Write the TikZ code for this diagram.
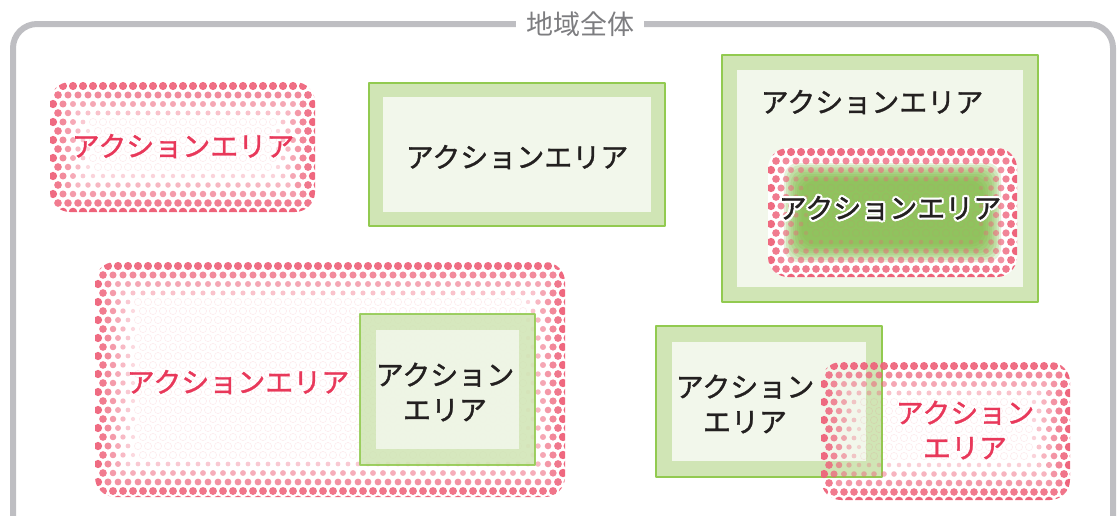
\documentclass[tikz,border=0pt]{standalone}
\usepackage{fontspec}
\setmainfont{Noto Sans CJK JP}
\newfontfamily\jpthick{Noto Sans CJK JP}[FakeBold=1.2]
\definecolor{framegray}{RGB}{190,190,194}
\definecolor{titlegray}{RGB}{125,125,128}
\definecolor{dotred}{RGB}{238,98,122}
\definecolor{textred}{RGB}{232,56,90}
\definecolor{bandgreen}{RGB}{208,229,181}
\definecolor{edgegreen}{RGB}{146,202,80}
\definecolor{innergreen}{RGB}{242,247,235}
\definecolor{glowgreen}{RGB}{128,188,70}
\definecolor{inkblack}{RGB}{35,32,32}
\tikzset{
  areatext/.style={font=\jpthick\fontsize{28}{35}\selectfont,align=center,inner sep=0pt},
  redtext/.style={areatext,text=textred},
  blacktext/.style={areatext,text=inkblack},
  band/.style={fill=bandgreen,draw=edgegreen,line width=1.2pt},
  inner/.style={fill=innergreen}
}
% halftone rounded area: x0,y0,x1,y1
\newcommand\halftone[4]{%
  \begin{scope}
  \clip[rounded corners=20pt] (#1,#2) rectangle (#3,#4);
  \pgfmathtruncatemacro\nx{(#3-#1)/10+1}
  \pgfmathtruncatemacro\ny{(#4-#2)/9+1}
  \foreach \j in {0,...,\ny}{
    \foreach \i in {0,...,\nx}{
      \pgfmathsetmacro\px{#1+3+10*\i+5*mod(\j,2)}
      \pgfmathsetmacro\py{#2+4+9*\j}
      \pgfmathsetmacro\dist{min(min(\px-#1,#3-\px),min(\py-#2,#4-\py))}
      \pgfmathsetmacro\fd{min(1,\dist/40)}
      \pgfmathsetmacro\rr{4.3-2.3*\fd}
      \ifdim\fd pt<1pt
        \fill[dotred,opacity=1-0.8*\fd] (\px,\py) circle (\rr pt);
      \else
        \draw[dotred,opacity=0.14,line width=0.5pt] (\px,\py) circle (3.6pt);
      \fi
    }}
  \end{scope}}
% green framed area: x0,y0,x1,y1,inset
\newcommand\greenbox[5]{%
  \fill[band] (#1,#2) rectangle (#3,#4);
  \fill[inner] (#1+#5,#2+#5) rectangle (#3-#5,#4-#5);}
% white halo round a text, kept in one box
\newcommand\halocopy[2]{\rlap{\kern#1\raisebox{#2}{\textcolor{white}{\haloword}}}}
\newcommand\haloed[1]{\def\haloword{#1}%
  \halocopy{-2.2pt}{0pt}\halocopy{2.2pt}{0pt}\halocopy{0pt}{2.2pt}\halocopy{0pt}{-2.2pt}%
  \halocopy{-1.6pt}{1.6pt}\halocopy{1.6pt}{1.6pt}\halocopy{-1.6pt}{-1.6pt}\halocopy{1.6pt}{-1.6pt}#1}
\begin{document}
\begin{tikzpicture}[x=1pt,y=-1pt,line join=round,line cap=round]
\useasboundingbox (0,0) rectangle (1118,515);
\clip (0,0) rectangle (1118,515);
% whole region
\draw[framegray,line width=6pt,rounded corners=24pt] (13,545) -- (13,24) -- (1113,24) -- (1113,545);
\node[fill=white,text=titlegray,font=\fontsize{27}{30}\selectfont,inner xsep=10pt,inner ysep=2pt] (title) at (580,24) {地域全体};
% area A
\halftone{50}{82}{315}{212}
\node[redtext] (areaA) at (183,146) {アクションエリア};
% area B
\greenbox{369}{83}{665}{226}{14}
\node[blacktext] (areaB) at (517,157) {アクションエリア};
% area C with nested area
\greenbox{722}{55}{1038}{302}{15}
\node[blacktext] (areaC) at (872,102) {アクションエリア};
\fill[white,rounded corners=20pt] (768,148) rectangle (1017,277);
\foreach \k in {0,...,8}
  \fill[glowgreen,opacity=0.2,rounded corners=14pt] (784+2.2*\k,163+2.2*\k) rectangle (1001-2.2*\k,262-2.2*\k);
\halftone{768}{148}{1017}{277}
\node[blacktext] (areaCC) at (890,208) {\haloed{アクションエリア}};
% area D with nested area E
\halftone{95}{262}{565}{497}
\node[redtext] (areaD) at (238,382) {アクションエリア};
\begin{scope}[opacity=0.88]
\greenbox{360}{314}{535}{465}{16}
\end{scope}
\node[blacktext] (areaE) at (445,392) {アクション\\エリア};
% areas F and G overlapping
\greenbox{656}{326}{882}{477}{16}
\node[blacktext] (areaF) at (745,404) {アクション\\エリア};
\halftone{821}{362}{1070}{500}
\node[redtext] (areaG) at (965,430) {アクション\\エリア};
\end{tikzpicture}
\end{document}
